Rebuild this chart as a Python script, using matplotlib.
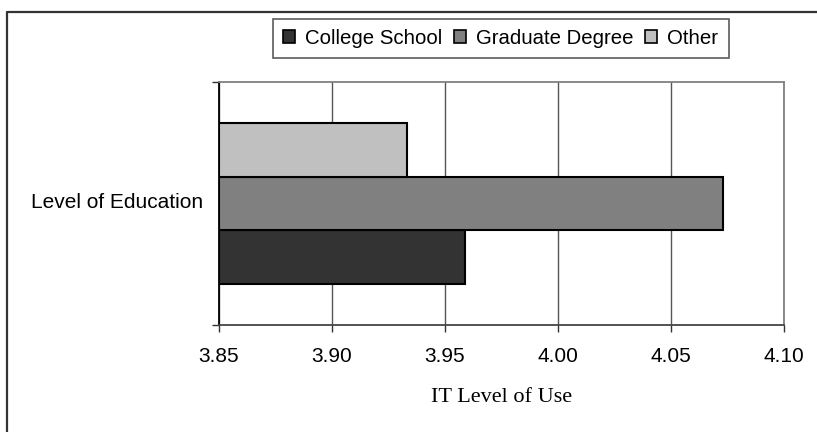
import matplotlib
matplotlib.use("Agg")
import matplotlib.pyplot as plt
from matplotlib.lines import Line2D

series = ["College School", "Graduate Degree", "Other"]
values = [3.959, 4.073, 3.933]
colors = ["#333333", "#808080", "#c0c0c0"]
category = "Level of Education"
xticks = [3.85, 3.90, 3.95, 4.00, 4.05, 4.10]
xlabel = "IT Level of Use"

sans = ["Liberation Sans", "DejaVu Sans"]
serif = ["Liberation Serif", "DejaVu Serif"]

W, H = 817, 432
fig = plt.figure(figsize=(W / 100, H / 100), dpi=100)
ax = fig.add_axes([219 / W, 1 - 325 / H, (784 - 219) / W, (325 - 82) / H])

h = 0.22
offsets = [-h, 0.0, h]
for name, v, c, off in zip(series, values, colors, offsets):
    ax.barh(off, v - xticks[0], left=xticks[0], height=h, color=c,
            edgecolor="black", linewidth=1.5, label=name, zorder=3)

ax.set_xlim(xticks[0], xticks[-1])
ax.set_ylim(-0.5, 0.5)
ax.set_xticks(xticks)
ax.set_xticklabels([f"{t:.2f}" for t in xticks], fontfamily=sans, fontsize=15)
ax.tick_params(axis="x", direction="out", length=5, width=1, color="#333333", pad=10.5)
ax.grid(axis="x", color="#555555", linewidth=1, zorder=0)

ax.set_yticks([-0.5, 0.5])
ax.set_yticklabels([])
ax.tick_params(axis="y", direction="out", length=5, width=1, color="#333333")
ax.text(-0.0283, -0.017, category, transform=ax.get_yaxis_transform(),
        ha="right", va="baseline", fontfamily=sans, fontsize=15)

ax.spines["left"].set_color("black")
ax.spines["left"].set_linewidth(1.3)
ax.spines["bottom"].set_color("#444444")
ax.spines["bottom"].set_linewidth(1.3)
for s in ("top", "right"):
    ax.spines[s].set_color("#808080")
    ax.spines[s].set_linewidth(1.3)

ax.set_xlabel(xlabel, fontfamily=serif, fontsize=16, labelpad=16)

leg = fig.legend(loc="center", bbox_to_anchor=(500.5 / W, 1 - 38.6 / H), ncol=3,
                 prop={"family": sans, "size": 14.7}, frameon=True, fancybox=False,
                 handlelength=0.6, handleheight=0.6, handletextpad=0.48,
                 columnspacing=0.58, borderpad=0.5, borderaxespad=0)
leg.get_frame().set_edgecolor("#333333")
leg.get_frame().set_linewidth(1.2)
for p in leg.get_patches():
    p.set_linewidth(1.2)

# chart-area border (left and top edges)
fx = 7.3 / W
fy = 1 - 11.7 / H
fig.add_artist(Line2D([fx, fx, 1.0], [0.0, fy, fy], transform=fig.transFigure,
                      color="#333333", linewidth=1.6))

fig.savefig("out.png", dpi=100)
